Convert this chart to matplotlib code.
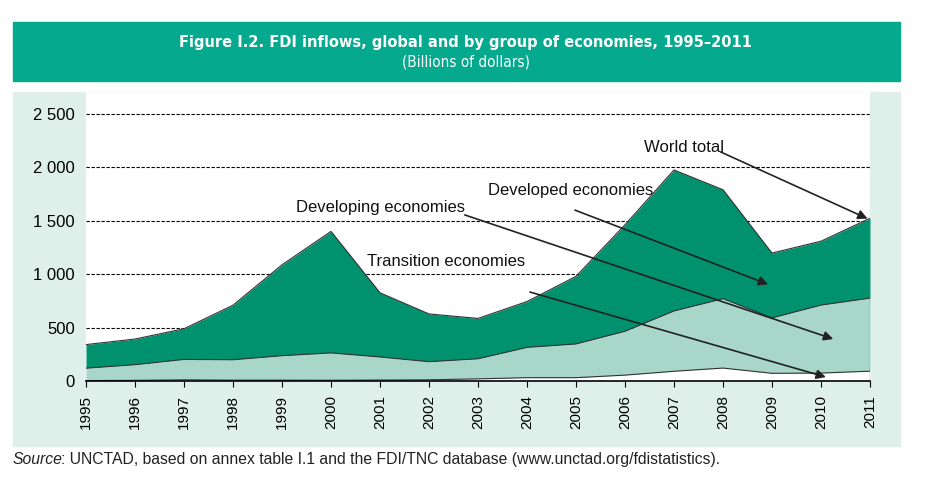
import matplotlib.pyplot as plt
import numpy as np
from matplotlib.patches import Rectangle

# FDI inflows, billions of dollars
years = np.arange(1995, 2012)
transition = [4, 6, 11, 8, 8, 7, 9, 11, 20, 31, 31, 55, 91, 121, 72, 74, 92]
developing = [116, 147, 191, 191, 229, 256, 216, 170, 188, 284, 316, 411, 565, 650, 519, 637, 684]
developed = [221, 240, 287, 511, 851, 1138, 601, 447, 378, 429, 633, 997, 1320, 1020, 607, 598, 748]

yticks = [0, 500, 1000, 1500, 2000, 2500]
ytick_labels = ["0", "500", "1 000", "1 500", "2 000", "2 500"]

# label text, text position, arrow tail, arrow head (data coords)
annotations = [
    ("World total", (2007.2, 2190), (2007.95, 2145), (2010.95, 1520)),
    ("Developed economies", (2004.9, 1780), (2004.98, 1600), (2008.92, 905)),
    ("Developing economies", (2001.0, 1620), (2002.73, 1555), (2010.25, 393)),
    ("Transition economies", (2002.35, 1115), (2004.06, 833), (2010.1, 37)),
]

dark_green = "#00916f"
light_green = "#a8d6c9"
header_col = "#05a98e"
panel_col = "#dff0ea"

plt.rcParams["font.family"] = ["Liberation Sans", "DejaVu Sans"]

fig = plt.figure(figsize=(9.45, 4.91), dpi=100)

# header band and light panel behind the chart
fig.patches.append(Rectangle((13 / 945, 1 - 81 / 491), 887 / 945, 59 / 491,
                             transform=fig.transFigure, color=header_col, zorder=-10))
fig.patches.append(Rectangle((13 / 945, 1 - 446 / 491), 887 / 945, 354 / 491,
                             transform=fig.transFigure, color=panel_col, zorder=-10))

fig.text(0.493, 1 - 43 / 491, "Figure I.2. FDI inflows, global and by group of economies, 1995\u20132011",
         ha="center", va="center", color="white", fontsize=11.7, fontweight="bold",
         family="DejaVu Sans", fontstretch="condensed")
fig.text(0.493, 1 - 62 / 491, "(Billions of dollars)", ha="center", va="center",
         color="white", fontsize=11, family="DejaVu Sans", fontstretch="condensed")

ax = fig.add_axes([86 / 945, 1 - 381 / 491, 784 / 945, 289 / 491])
ax.set_facecolor("white")

t = np.array(transition)
d = t + np.array(developing)
w = d + np.array(developed)

ax.fill_between(years, d, w, color=dark_green, lw=0, zorder=2)
ax.fill_between(years, t, d, color=light_green, lw=0, zorder=2)
ax.fill_between(years, 0, t, color="white", lw=0, zorder=2)
for s in (w, d, t):
    ax.plot(years, s, color="#333333", lw=0.8, zorder=3)
ax.plot([2011, 2011], [0, w[-1]], color="#888888", lw=1, zorder=3)

for yv in yticks[1:]:
    ax.axhline(yv, color="black", lw=0.8, ls=(0, (3, 1.5)), zorder=1)

ax.set_xlim(1995, 2011)
ax.set_ylim(0, 2706)
ax.set_xticks(years)
ax.set_xticklabels([str(y) for y in years], rotation=90, fontsize=11)
ax.set_yticks(yticks)
ax.set_yticklabels(ytick_labels, fontsize=12)
ax.tick_params(axis="y", length=0, pad=8)
ax.tick_params(axis="x", length=4, direction="out", color="black", pad=6)
for side in ("left", "right", "top"):
    ax.spines[side].set_visible(False)
ax.spines["bottom"].set_linewidth(1.2)
ax.spines["bottom"].set_zorder(4)

for label, txt_pos, tail, head in annotations:
    ax.text(txt_pos[0], txt_pos[1], label, ha="center", va="center", fontsize=12,
            color="#111111", zorder=5)
    ax.annotate("", xy=head, xytext=tail,
                arrowprops=dict(arrowstyle="-|>", color="#222222", lw=1.2,
                                mutation_scale=14, shrinkA=0, shrinkB=0),
                zorder=5)

fig.text(13 / 945, 1 - 464 / 491, "Source", ha="left", va="baseline", fontsize=11.3,
         style="italic", color="#222222")
fig.text(13 / 945 + 0.0505, 1 - 464 / 491,
         ": UNCTAD, based on annex table I.1 and the FDI/TNC database (www.unctad.org/fdistatistics).",
         ha="left", va="baseline", fontsize=11.3, color="#222222")

fig.savefig("out.png", dpi=100)
